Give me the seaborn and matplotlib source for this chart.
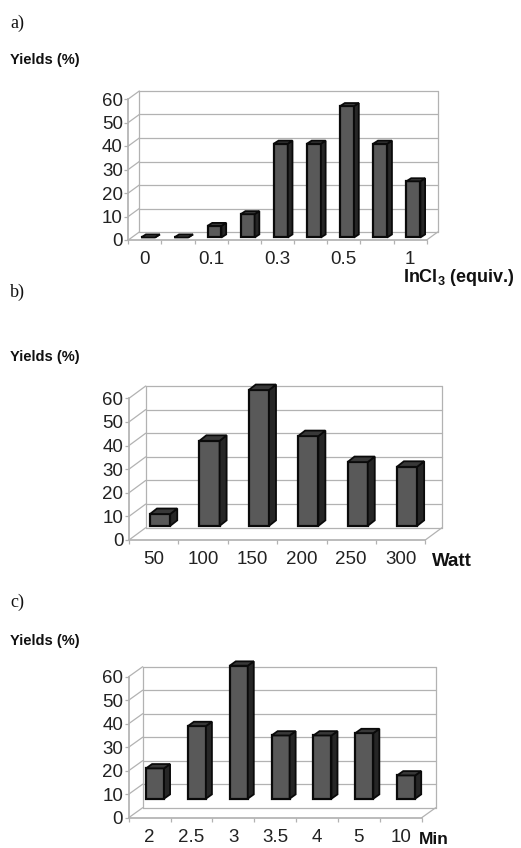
import matplotlib
matplotlib.use("Agg")
import matplotlib.pyplot as plt
import numpy as np
import seaborn as sns
from matplotlib.patches import Polygon

W, H = 521, 848

# values read against the front y scale
labels_a = ["0", "", "0.1", "", "0.3", "", "0.5", "", "1"]
values_a = [0, 0, 6, 11, 41, 41, 57, 41, 25]
labels_b = ["50", "100", "150", "200", "250", "300"]
values_b = [11, 42, 63.5, 44, 33, 31]
labels_c = ["2", "2.5", "3", "3.5", "4", "5", "10"]
values_c = [21, 39, 64.7, 35, 35, 36, 18]

sns.set_theme(style="white")
plt.rcParams["font.family"] = ["Liberation Sans", "DejaVu Sans"]
plt.rcParams["mathtext.fontset"] = "custom"
plt.rcParams["mathtext.bf"] = "Liberation Sans:bold"
plt.rcParams["mathtext.rm"] = "Liberation Sans"

GRAY = "#b2b2b2"
TEXT = "#222222"


def draw_panel(fig, labels, values, box, wall, depth, floor, shift, width):
    x0, x1, y60, y0 = box
    ax = fig.add_axes([x0 / W, 1 - y0 / H, (x1 - x0) / W, (y0 - y60) / H])
    slots = list(range(len(values)))
    heights = np.maximum(np.array(values, dtype=float) - floor, 0)
    sns.barplot(x=slots, y=heights, ax=ax, color="#595959", saturation=1,
                width=width, edgecolor="#0a0a0a", linewidth=1.6,
                bottom=floor, zorder=3)
    ax.set_xlim(-0.5, len(values) - 0.5)
    ax.set_ylim(0, 60)

    # pixels to data units
    px_x = len(values) / (x1 - x0)
    px_y = 60 / (y0 - y60)
    wall_x, wall_y = wall[0] * px_x, wall[1] * px_y
    dep_x, dep_y = depth[0] * px_x, depth[1] * px_y
    left, right = -0.5, len(values) - 0.5

    # back wall and its grid
    line = dict(color=GRAY, lw=0.9, clip_on=False, zorder=1)
    for tick in range(0, 70, 10):
        ax.plot([left, left + wall_x], [tick, tick + wall_y], **line)
        ax.plot([left + wall_x, right + wall_x], [tick + wall_y] * 2, **line)
    ax.plot([left + wall_x] * 2, [wall_y, 60 + wall_y], **line)
    ax.plot([right + wall_x] * 2, [wall_y, 60 + wall_y], **line)
    ax.plot([right, right + wall_x], [0, wall_y], **line)

    # side and top faces, built from the bars seaborn drew
    for bar in ax.containers[0]:
        bar.set_x(bar.get_x() + shift)
        bx, by = bar.get_x(), bar.get_y()
        bw, bh = bar.get_width(), bar.get_height()
        side = [(bx + bw, by), (bx + bw + dep_x, by + dep_y),
                (bx + bw + dep_x, by + bh + dep_y), (bx + bw, by + bh)]
        top = [(bx, by + bh), (bx + bw, by + bh),
               (bx + bw + dep_x, by + bh + dep_y), (bx + dep_x, by + bh + dep_y)]
        ax.add_patch(Polygon(side, fc="#262626", ec="#0a0a0a", lw=1.3,
                             clip_on=False, zorder=3))
        ax.add_patch(Polygon(top, fc="#383838", ec="#0a0a0a", lw=1.3,
                             clip_on=False, zorder=3))
        bar.set_clip_on(False)

    sns.despine(ax=ax)
    ax.spines["left"].set_color(GRAY)
    ax.spines["bottom"].set_color(GRAY)
    ax.set_xlabel("")
    ax.set_ylabel("")
    ax.set_yticks(range(0, 70, 10))
    ax.set_xticks(slots)
    ax.set_xticklabels(labels)
    ax.set_xticks(np.arange(left, right + 1), minor=True)
    ax.tick_params(axis="y", length=3, width=0.9, color=GRAY, pad=1,
                   labelsize=13.5, labelcolor=TEXT, left=True)
    ax.tick_params(axis="x", which="major", length=0, pad=8,
                   labelsize=13.5, labelcolor=TEXT)
    ax.tick_params(axis="x", which="minor", length=3, width=0.9, color=GRAY,
                   bottom=True)
    return ax


fig = plt.figure(figsize=(W / 100, H / 100), dpi=100)

draw_panel(fig, labels_a, values_a, (128.3, 426.7, 99, 240), (11, 8), (4.7, 3),
           floor=1.1, shift=0.10, width=0.42)
draw_panel(fig, labels_b, values_b, (129, 425.3, 398.3, 540), (16.7, 12.3), (7, 5.5),
           floor=6, shift=0.13, width=0.41)
draw_panel(fig, labels_c, values_c, (128.7, 421.7, 676.7, 817.7), (14, 10), (6, 4.3),
           floor=8.1, shift=0.13, width=0.43)


def put(x, y, s, **kw):
    fig.text(x / W, 1 - y / H, s, va="center", **kw)


for y, s in [(23, "a)"), (292, "b)"), (602, "c)")]:
    put(10, y, s, family="Liberation Serif", fontsize=13, color="#111111")
for y in [60, 357, 641]:
    put(10, y, "Yields (%)", fontweight="bold", fontsize=10.5, color="#111111")

put(403, 277, r"InCl$\mathbf{_3}$ (equiv.)", fontweight="bold", fontsize=13, color="#111111")
put(432, 562, "Watt", fontweight="bold", fontsize=13.5, color="#111111")
put(419, 839, "Min", fontweight="bold", fontsize=12.5, color="#111111")

fig.savefig("out.png", dpi=100)
